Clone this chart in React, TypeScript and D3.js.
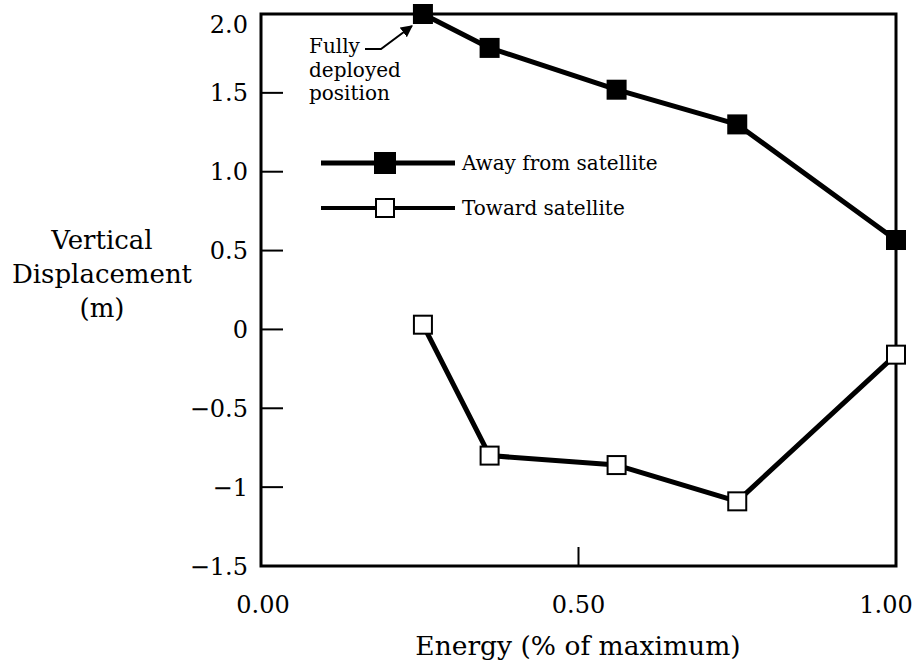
import React from "react";
import * as d3 from "d3";

const energy = [0.255, 0.36, 0.56, 0.75, 1.0];
const awayFromSatellite = [2.0, 1.785, 1.52, 1.3, 0.567];
const towardSatellite = [0.03, -0.8, -0.86, -1.09, -0.16];

const yTickValues = [2.0, 1.5, 1.0, 0.5, 0, -0.5, -1, -1.5];
const yTickLabels = ["2.0", "1.5", "1.0", "0.5", "0", "\u22120.5", "\u22121", "\u22121.5"];
const xTickValues = [0, 0.5, 1.0];
const xTickLabels = ["0.00", "0.50", "1.00"];
const yTitleLines = ["Vertical", "Displacement", "(m)"];
const xTitle = "Energy (% of maximum)";
const legendLabels = ["Away from satellite", "Toward satellite"];
const annotationLines = ["Fully", "deployed", "position"];

const W = 920;
const H = 671;
const FONT = "'DejaVu Serif', serif";

export default function App() {
  const x = d3.scaleLinear().domain([0, 1]).range([261, 896]);
  const y = d3.scaleLinear().domain([-1.5, 2.0]).range([566, 14]);

  const line = d3
    .line<number>()
    .x((_, i) => x(energy[i]))
    .y((d) => y(d));

  const frameL = x(0), frameR = x(1), frameT = y(2.0), frameB = y(-1.5);
  const ms = 20;

  const legendRows = [
    { label: legendLabels[0], filled: true, y: 163 },
    { label: legendLabels[1], filled: false, y: 208 },
  ];

  return (
    <svg
      width={W}
      height={H}
      style={{ position: "absolute", left: 0, top: 0, background: "#fff" }}
      fontFamily={FONT}
    >
      <rect x={0} y={0} width={W} height={H} fill="#fff" />
      {/* frame */}
      <rect
        x={frameL}
        y={frameT}
        width={frameR - frameL}
        height={frameB - frameT}
        fill="none"
        stroke="#000"
        strokeWidth={3}
      />
      {/* y ticks (inward) */}
      {yTickValues.map((v, i) => (
        <g key={"yt" + i}>
          {v < 2.0 && v > -1.5 && (
            <line x1={frameL} x2={frameL + 22} y1={y(v)} y2={y(v)} stroke="#000" strokeWidth={2} />
          )}
          <text
            x={248}
            y={Math.max(y(v), 24)}
            dy="0.36em"
            textAnchor="end"
            fontSize={24}
            fill="#000"
          >
            {yTickLabels[i]}
          </text>
        </g>
      ))}
      {/* x ticks */}
      {xTickValues.map((v, i) => (
        <g key={"xt" + i}>
          {v > 0 && v < 1 && (
            <line x1={x(v)} x2={x(v)} y1={frameB} y2={frameB - 19} stroke="#000" strokeWidth={2} />
          )}
          <text
            x={Math.min(Math.max(x(v), 263), 886)}
            y={613}
            textAnchor="middle"
            fontSize={24}
            fill="#000"
          >
            {xTickLabels[i]}
          </text>
        </g>
      ))}
      {/* axis titles */}
      <text x={578} y={655} textAnchor="middle" fontSize={26.5} fill="#000">
        {xTitle}
      </text>
      {yTitleLines.map((t, i) => (
        <text key={"ytl" + i} x={102} y={249 + i * 34} textAnchor="middle" fontSize={26} fill="#000">
          {t}
        </text>
      ))}
      {/* series lines */}
      <path d={line(awayFromSatellite) || ""} fill="none" stroke="#000" strokeWidth={5} strokeLinejoin="round" />
      <path d={line(towardSatellite) || ""} fill="none" stroke="#000" strokeWidth={5} strokeLinejoin="round" />
      {/* markers */}
      {awayFromSatellite.map((v, i) => (
        <rect key={"a" + i} x={x(energy[i]) - ms / 2} y={y(v) - ms / 2} width={ms} height={ms} fill="#000" />
      ))}
      {towardSatellite.map((v, i) => (
        <rect
          key={"t" + i}
          x={x(energy[i]) - (ms - 2) / 2}
          y={y(v) - (ms - 2) / 2}
          width={ms - 2}
          height={ms - 2}
          fill="#fff"
          stroke="#000"
          strokeWidth={2}
        />
      ))}
      {/* legend */}
      {legendRows.map((r, i) => (
        <g key={"lg" + i}>
          <line x1={321} x2={455} y1={r.y} y2={r.y} stroke="#000" strokeWidth={r.filled ? 5 : 4} />
          {r.filled ? (
            <rect x={385 - 11} y={r.y - 11} width={22} height={22} fill="#000" />
          ) : (
            <rect x={385 - 9} y={r.y - 9} width={18} height={18} fill="#fff" stroke="#000" strokeWidth={2} />
          )}
          <text x={462} y={r.y} dy="0.36em" fontSize={20} fill="#000">
            {r.label}
          </text>
        </g>
      ))}
      {/* annotation */}
      {annotationLines.map((t, i) => (
        <text key={"an" + i} x={309} y={53 + i * 23.5} fontSize={20} fill="#000">
          {t}
        </text>
      ))}
      <defs>
        <marker id="arrowhead" viewBox="0 0 10 10" refX="9" refY="5" markerWidth="6" markerHeight="6" orient="auto">
          <path d="M0,0 L10,5 L0,10 z" fill="#000" />
        </marker>
      </defs>
      <path
        d={`M365,49 L381,49 L${x(energy[0]) - 11},${y(awayFromSatellite[0]) + 12}`}
        fill="none"
        stroke="#000"
        strokeWidth={2}
        markerEnd="url(#arrowhead)"
      />
    </svg>
  );
}
